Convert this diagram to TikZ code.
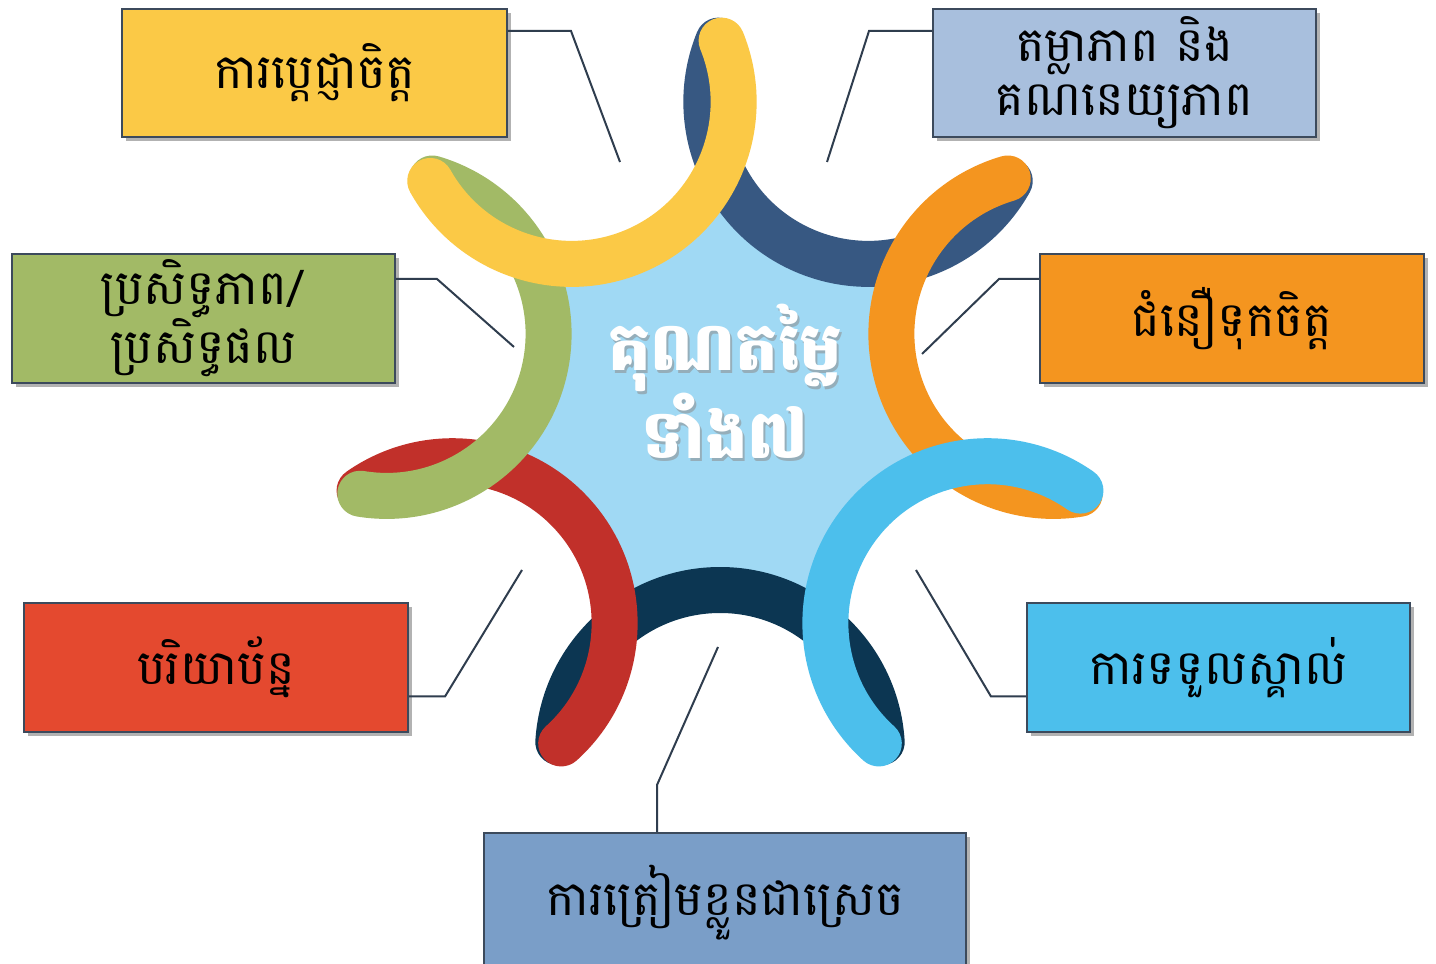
\documentclass[tikz,border=0pt]{standalone}
\usepackage{fontspec}
\newfontfamily\kh[Script=Khmer]{Battambang}
\usetikzlibrary{shadows}
\definecolor{cYel}{HTML}{FBC946}
\definecolor{cNavyT}{HTML}{375882}
\definecolor{cNavyB}{HTML}{0C3652}
\definecolor{cRed}{HTML}{C1302A}
\definecolor{cRedBox}{HTML}{E4492F}
\definecolor{cCyan}{HTML}{4CBFEC}
\definecolor{cOrange}{HTML}{F4951F}
\definecolor{cGreen}{HTML}{A2BA66}
\definecolor{cGrayBlue}{HTML}{A8BFDD}
\definecolor{cBottom}{HTML}{7A9EC8}
\definecolor{cCenter}{HTML}{A0D9F4}
\definecolor{cBorder}{HTML}{3C4A5C}
\definecolor{cLine}{HTML}{2F3D4E}
\begin{document}
\begin{tikzpicture}[x=1pt,y=1pt,
  band/.style={line width=46pt, line cap=round},
  box/.style={draw=cBorder, line width=1.8pt, inner sep=0pt, align=center,
    font=\kh\fontsize{48}{54}\selectfont,
    drop shadow={shadow xshift=4pt, shadow yshift=-4pt, fill=black, opacity=0.3}},
  conn/.style={draw=cLine, line width=2pt},
  ctext/.style={align=center, font=\kh\bfseries\fontsize{67}{88}\selectfont, inner sep=0pt}]
\useasboundingbox (0,0) rectangle (1436,964);
\clip (0,0) rectangle (1436,964);
\fill[white] (0,0) rectangle (1436,964);

% centre
\coordinate (O) at (720,554);
\fill[cCenter] (O) circle (200);
\foreach \a/\c in {-90/cNavyB, 64.286/cNavyT, 218.571/cRed, 167.143/cGreen, 115.714/cYel, 12.857/cOrange, -38.571/cCyan}{
  \draw[band, draw=\c] (O) ++(\a:342) ++(\a+93.5:162) arc[start angle=\a+93.5, end angle=\a+266.5, radius=162];
}
\node[ctext, text=black!45, opacity=0.55] (cts) at (727,580) {គុណតម្លៃ\\ទាំង៧};
\node[ctext, text=white] (ct) at (725,583) {គុណតម្លៃ\\ទាំង៧};

% boxes
\node[box, fill=cYel, minimum width=385pt, minimum height=128pt] (b1) at (314.5,891) {ការប្តេជ្ញាចិត្ត};
\node[box, fill=cGrayBlue, minimum width=383pt, minimum height=128pt] (b2) at (1124.5,891) {តម្លាភាព និង\\គណនេយ្យភាព};
\node[box, fill=cGreen, minimum width=383pt, minimum height=129pt] (b3) at (203.5,645.5) {ប្រសិទ្ធភាព/\\ប្រសិទ្ធផល};
\node[box, fill=cOrange, minimum width=384pt, minimum height=129pt] (b4) at (1232,645.5) {ជំនឿទុកចិត្ត};
\node[box, fill=cRedBox, minimum width=384pt, minimum height=129pt] (b5) at (216,296.5) {បរិយាប័ន្ន};
\node[box, fill=cCyan, minimum width=383pt, minimum height=129pt] (b6) at (1218.5,296.5) {ការទទួលស្គាល់};
\node[box, fill=cBottom, minimum width=482pt, minimum height=140pt] (b7) at (725,61) {ការត្រៀមខ្លួនជាស្រេច};

% connectors
\coordinate (k1) at (571,933); \coordinate (e1) at (620,802);
\coordinate (k2) at (869,933); \coordinate (e2) at (827,802);
\coordinate (k3) at (437,685); \coordinate (e3) at (514,617);
\coordinate (k4) at (999,685); \coordinate (e4) at (922,610);
\coordinate (k5) at (445,267.5); \coordinate (e5) at (522,394);
\coordinate (k6) at (991,267.5); \coordinate (e6) at (916,394);
\coordinate (k7) at (657,179); \coordinate (e7) at (718,317);
\draw[conn] (b1.east |- k1) -- (k1) -- (e1);
\draw[conn] (b2.west |- k2) -- (k2) -- (e2);
\draw[conn] (b3.east |- k3) -- (k3) -- (e3);
\draw[conn] (b4.west |- k4) -- (k4) -- (e4);
\draw[conn] (b5.east |- k5) -- (k5) -- (e5);
\draw[conn] (b6.west |- k6) -- (k6) -- (e6);
\draw[conn] (b7.north -| k7) -- (k7) -- (e7);
\end{tikzpicture}
\end{document}
